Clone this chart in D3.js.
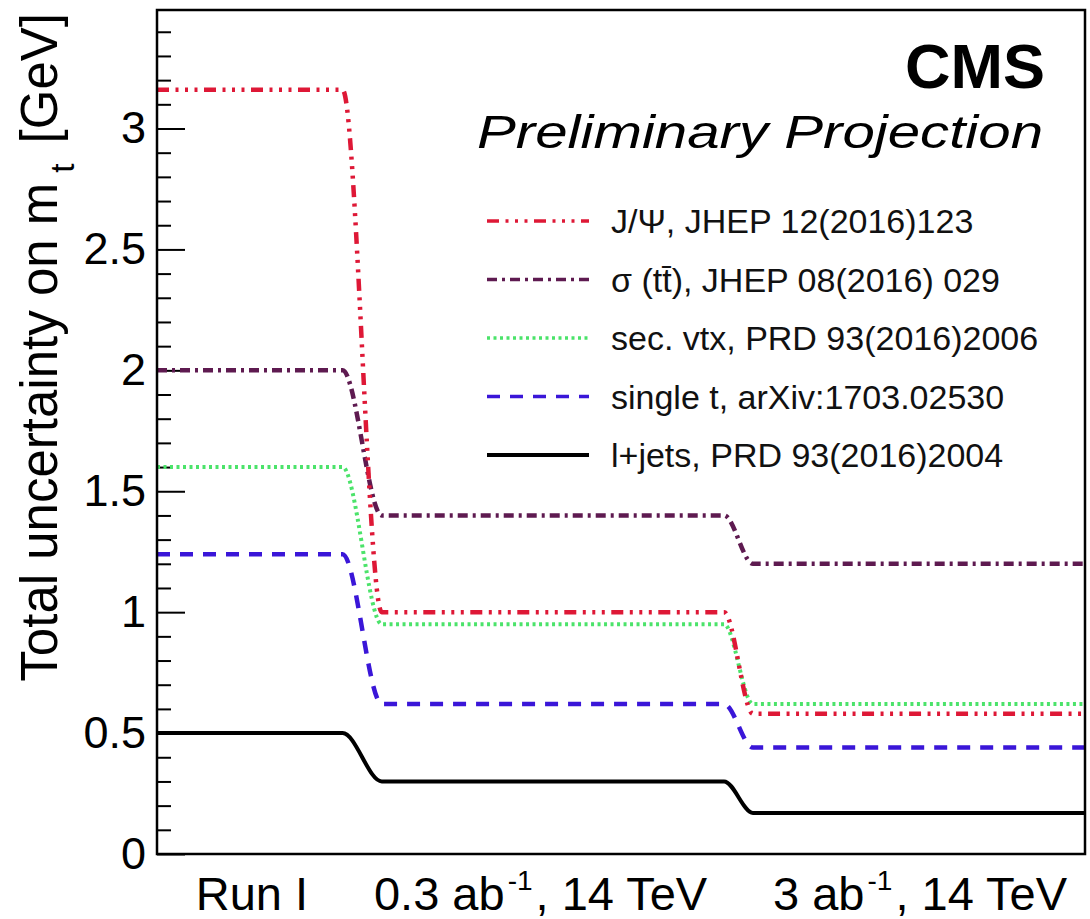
<!DOCTYPE html>
<html>
<head>
<meta charset="utf-8">
<script src="https://cdn.jsdelivr.net/npm/d3@7"></script>
<style>
  body { margin: 0; background: #fff; }
  text { font-family: "Liberation Sans", Arial, Helvetica, sans-serif; }
</style>
</head>
<body>
<div id="chart"></div>
<script>
// stages along x, and where the steps between them sit
var stageLabels = ["Run I", "0.3 ab", "3 ab"];
var stageLabelX = [0.46, 1.86, 3.70];
var knotX = [0, 0.9, 1.09, 2.75, 2.89, 4.5];

// total uncertainty on m_t [GeV] per stage
var seriesNames = ["J/\u03A8, JHEP 12(2016)123", "\u03C3 (tt\u0304), JHEP 08(2016) 029",
  "sec. vtx, PRD 93(2016)2006", "single t, arXiv:1703.02530", "l+jets, PRD 93(2016)2004"];
var jpsi = [3.16, 1.0, 0.58];
var sigmaTT = [2.0, 1.4, 1.2];
var secVtx = [1.6, 0.95, 0.62];
var singleT = [1.24, 0.62, 0.44];
var lJets = [0.5, 0.3, 0.17];
var seriesValues = [jpsi, sigmaTT, secVtx, singleT, lJets];

var yMajor = [0, 0.5, 1, 1.5, 2, 2.5, 3];

// styles
var colors = ["#de1836", "#5e1a50", "#4be36a", "#3a16d8", "#000000"];
var dashes = ["12,6.5,3,6.5,3,6.5,3,6.5", "10,5,3,5", "3,3.5", "13,10", null];
var widths = [4.5, 4.5, 4, 4.5, 4];

var margin = {top: 10, right: 5, bottom: 65, left: 157},
    width = 1090 - margin.left - margin.right,
    height = 919 - margin.top - margin.bottom;

var svg = d3.select("#chart")
  .append("svg")
    .attr("width", 1090)
    .attr("height", 919)
  .append("g")
    .attr("transform", "translate(" + margin.left + "," + margin.top + ")");

var x = d3.scaleLinear().domain([0, 4.5]).range([0, width]);
var y = d3.scaleLinear().domain([0, 3.49]).range([height, 0]);

// y tick labels
svg.append("g")
  .call(d3.axisLeft(y).tickValues(yMajor).tickSize(0).tickPadding(11).tickFormat(d3.format("")))
  .call(function(g) { g.select(".domain").remove(); })
  .selectAll("text")
    .attr("font-size", 45)
    .attr("font-family", "Liberation Sans, Arial, sans-serif")
    .attr("fill", "#000");

// inward ticks
var minor = d3.range(1, 35).map(function(i) { return i / 10; })
  .filter(function(v) { return Math.abs(v * 2 - Math.round(v * 2)) > 1e-6; });
svg.append("g")
  .call(d3.axisRight(y).tickValues(minor).tickSize(14).tickFormat(""))
  .call(function(g) { g.select(".domain").remove(); })
  .selectAll("line").attr("stroke", "#000").attr("stroke-width", 2);
svg.append("g")
  .call(d3.axisRight(y).tickValues(yMajor).tickSize(28).tickFormat(""))
  .call(function(g) { g.select(".domain").remove(); })
  .selectAll("line").attr("stroke", "#000").attr("stroke-width", 2);

// curves
var line = d3.line()
  .x(function(d) { return x(d[0]); })
  .y(function(d) { return y(d[1]); })
  .curve(d3.curveMonotoneX);

function knots(v) {
  var vals = [v[0], v[0], v[1], v[1], v[2], v[2]];
  return knotX.map(function(k, i) { return [k, vals[i]]; });
}

svg.append("defs").append("clipPath").attr("id", "clip")
  .append("rect").attr("width", width).attr("height", height);

svg.append("g").attr("clip-path", "url(#clip)")
  .selectAll("path")
  .data(seriesValues.map(function(v, i) { return {v: v, i: i}; }).reverse())
  .enter()
  .append("path")
    .attr("d", function(d) { return line(knots(d.v)); })
    .attr("fill", "none")
    .attr("stroke", function(d) { return colors[d.i]; })
    .attr("stroke-width", function(d) { return widths[d.i]; })
    .attr("stroke-dasharray", function(d) { return dashes[d.i]; });

// frame
svg.append("rect")
  .attr("width", width).attr("height", height)
  .attr("fill", "none").attr("stroke", "#000").attr("stroke-width", 2.5);

// x labels
var xl = svg.append("g").attr("font-size", 47).attr("fill", "#000");
stageLabels.forEach(function(lab, i) {
  var t = xl.append("text")
    .attr("x", x(stageLabelX[i]))
    .attr("y", height + 56)
    .attr("text-anchor", "middle");
  if (i === 0) {
    t.text(lab);
  } else {
    t.append("tspan").text(lab);
    t.append("tspan").attr("font-size", 28).attr("dy", -20).attr("dx", 3).text("-1");
    t.append("tspan").attr("dy", 20).attr("dx", 3).text(", 14 TeV");
  }
});

// y title
var yt = svg.append("text")
  .attr("transform", "translate(" + (-100) + "," + 3 + ")rotate(-90)")
  .attr("text-anchor", "end")
  .attr("font-size", 51)
  .attr("fill", "#000");
yt.append("tspan").text("Total uncertainty on m");
yt.append("tspan").attr("font-size", 33).attr("dy", 17).attr("dx", 10).text("t");
yt.append("tspan").attr("dy", -17).attr("dx", 6).text(" [GeV]");

// CMS labels
svg.append("text")
  .attr("x", x(4.5) - 40).attr("y", 78)
  .attr("text-anchor", "end")
  .attr("font-size", 63).attr("font-weight", "bold")
  .text("CMS");
svg.append("text")
  .attr("x", x(4.5) - 42).attr("y", 138)
  .attr("text-anchor", "end")
  .attr("font-size", 47).attr("font-style", "italic")
  .attr("textLength", 566).attr("lengthAdjust", "spacingAndGlyphs")
  .text("Preliminary Projection");

// legend
var legend = svg.append("g").attr("transform", "translate(" + (487 - margin.left) + "," + (221 - margin.top) + ")");
var rows = legend.selectAll("g")
  .data(seriesNames)
  .enter().append("g")
    .attr("transform", function(d, i) { return "translate(0," + i * 58.5 + ")"; });
rows.append("line")
  .attr("x1", 0).attr("x2", 102)
  .attr("stroke", function(d, i) { return colors[i]; })
  .attr("stroke-width", function(d, i) { return i === 4 ? 4 : 3.5; })
  .attr("stroke-dasharray", function(d, i) { return dashes[i]; });
rows.append("text")
  .attr("x", 124)
  .attr("dy", "0.36em")
  .attr("font-size", 34)
  .attr("fill", "#111")
  .text(function(d) { return d; });
</script>
</body>
</html>
